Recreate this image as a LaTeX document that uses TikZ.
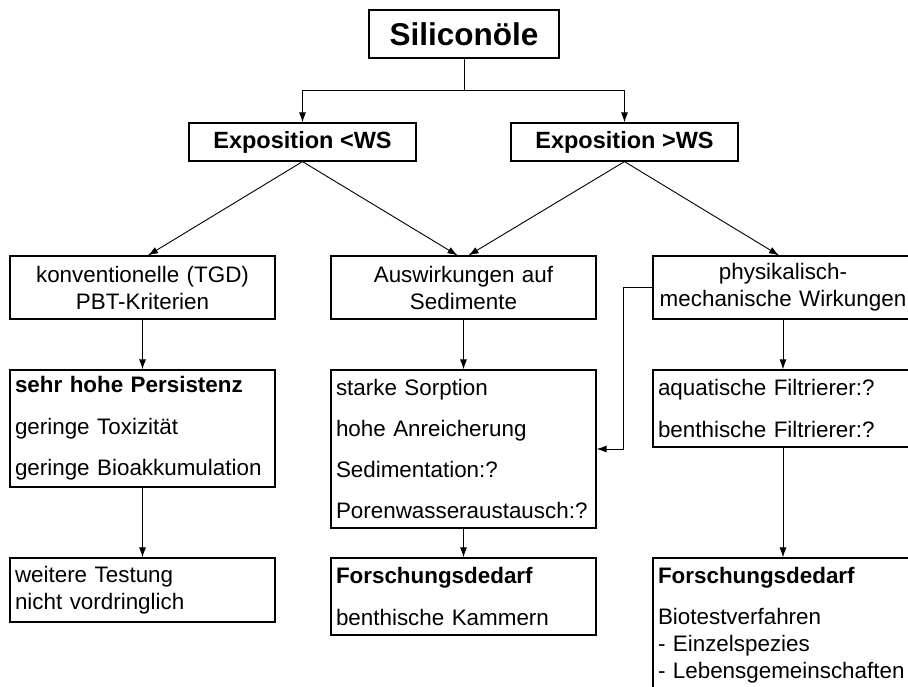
\documentclass[tikz,border=0pt]{standalone}
\usepackage{fontspec}
\setmainfont{Liberation Sans}
\usetikzlibrary{calc,arrows.meta}

\tikzset{
  box/.style={draw,line width=1.2pt,inner xsep=5pt,inner ysep=0pt,
    font=\fontsize{22.4}{27}\selectfont},
  tbox/.style={box,font=\fontsize{23.5}{27}\selectfont\bfseries},
  cbox/.style={box,text width=255pt,align=center},
  lbox/.style={box,text width=255pt,align=left},
  rbox/.style={box,text width=250pt,align=left},
  con/.style={line width=0.9pt,-{Latex[length=10pt,width=7pt]}}
}

\begin{document}
\begin{tikzpicture}[x=1pt,y=-1pt]
          \useasboundingbox (0,0) rectangle (908,686);
          % top of the tree
          \node[tbox,minimum width=190pt,minimum height=48pt,
            font=\fontsize{31.5}{36}\selectfont\bfseries] (sil) at (464,34){Siliconöle};
          \node[tbox,minimum width=227pt,minimum height=38pt] (expl) at (302.5,142){Exposition <WS};
          \node[tbox,minimum width=227pt,minimum height=38pt] (exph) at (624.5,142){Exposition >WS};
          % three branches
          \node[cbox,minimum height=63pt] (konv) at (142.5,287.5){konventionelle (TGD)\\PBT-Kriterien};
          \node[cbox,minimum height=63pt] (sed) at (463.5,287.5){Auswirkungen auf\\Sedimente};
          \node[rbox,align=center,minimum height=63pt] (phys) at (783,287.5){physikalisch-\\mechanische Wirkungen};
          \node[lbox,minimum height=117pt] (pers) at (142.5,428.5){\textbf{sehr hohe Persistenz}\\[14.3pt]geringe Toxizität\\[14.3pt]geringe Bioakkumulation};
          \node[lbox,minimum height=158pt] (sorp) at (463.5,449){starke Sorption\\[14.3pt]hohe Anreicherung\\[14.3pt]Sedimentation:?\\[14.3pt]Porenwasseraustausch:?};
          \node[rbox,minimum height=77pt] (filt) at (783,408.5){aquatische Filtrierer:?\\[14.3pt]benthische Filtrierer:?};
          \node[lbox,minimum height=64pt] (test) at (142.5,590){weitere Testung\\nicht vordringlich};
          \node[lbox,minimum height=77pt] (fsed) at (463.5,596.5){\textbf{Forschungsdedarf}\\[14.3pt]benthische Kammern};
          \node[rbox,minimum height=135pt] (fbio) at (783,625.5){\textbf{Forschungsdedarf}\\[14.3pt]Biotestverfahren\\- Einzelspezies\\- Lebensgemeinschaften};
          % connectors
          \draw[con] (sil.south) -- ++(0,32) -| (expl.north);
          \draw[con] (sil.south) -- ++(0,32) -| (exph.north);
          \draw[con] (expl.south) -- ($(konv.north)+(5.5,0)$);
          \draw[con] (expl.south) -- ($(sed.north)+(-6,0)$);
          \draw[con] (exph.south) -- ($(sed.north)+(5,0)$);
          \draw[con] (exph.south) -- ($(phys.north)+(-4,0)$);
          \draw[con] (konv.south) -- (pers.north);
          \draw[con] (sed.south) -- (sorp.north);
          \draw[con] (phys.south) -- (filt.north);
          \draw[con] (pers.south) -- (test.north);
          \draw[con] (sorp.south) -- (fsed.north);
          \draw[con] (filt.south) -- (fbio.north);
          \draw[con] (phys.west) -- ++(-29,0) |- (sorp.east);
        \end{tikzpicture}
\end{document}
